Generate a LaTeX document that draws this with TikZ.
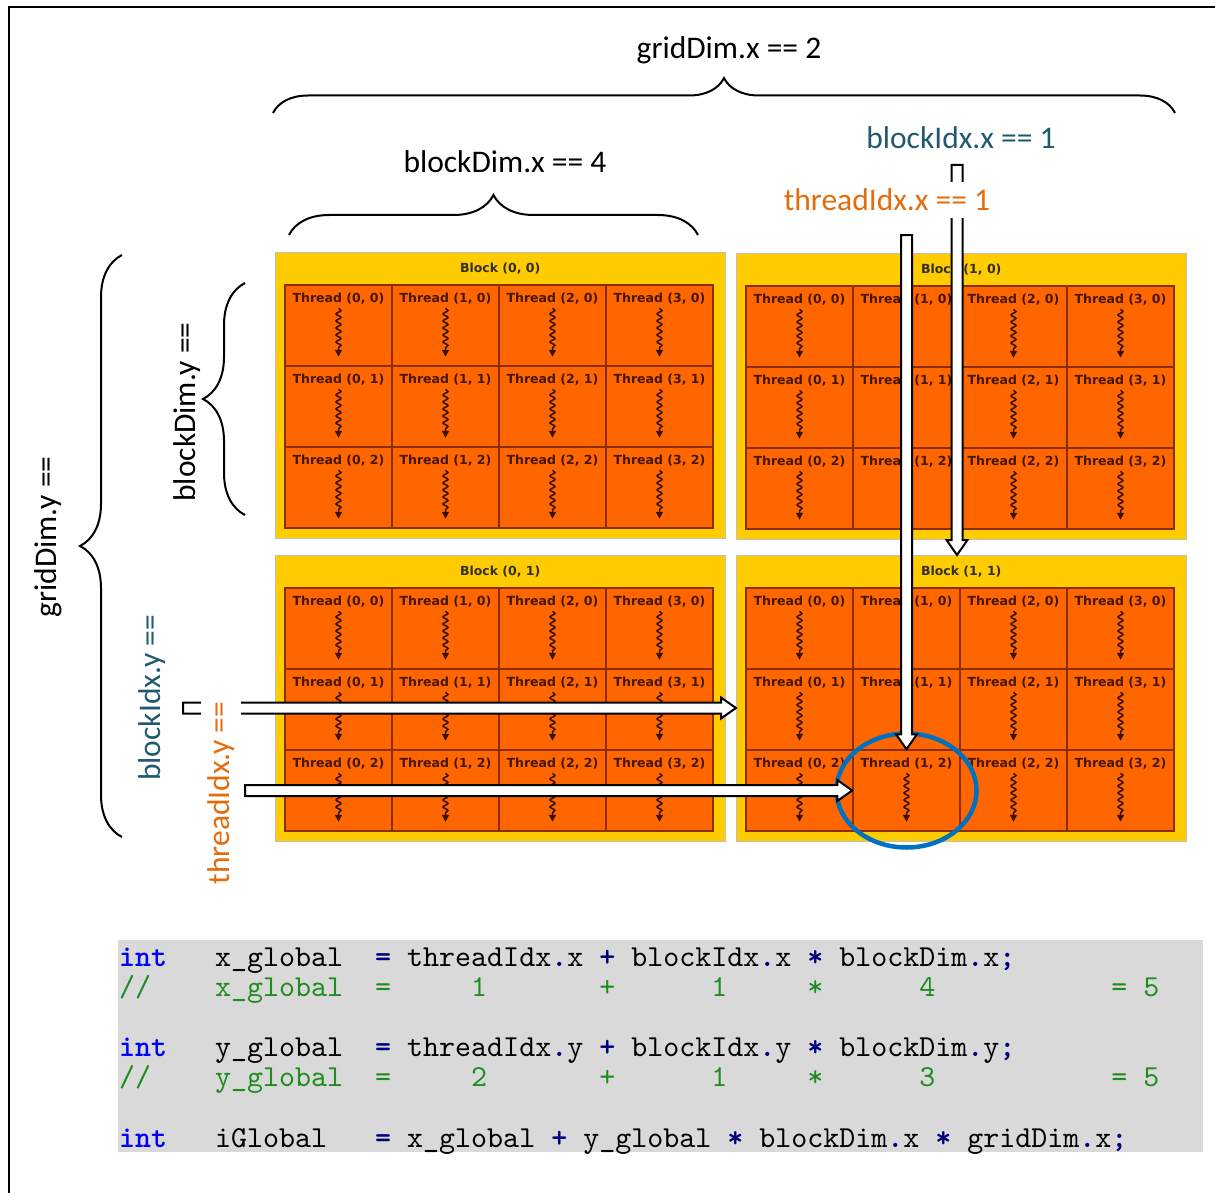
\documentclass[tikz,border=0pt]{standalone}
\usepackage{fontspec}
\setmainfont{Carlito}
\setmonofont{lmmono10-regular.otf}[BoldFont=lmmonolt10-bold.otf]
\newfontfamily\cellfont{DejaVu Sans}
\usetikzlibrary{arrows.meta,calc,decorations.pathmorphing,decorations.pathreplacing,shapes.geometric}
\definecolor{GridYellow}{HTML}{FFCC00}
\definecolor{CellOrange}{HTML}{FF6600}
\definecolor{CellBrown}{HTML}{8A2E00}
\definecolor{IdxTeal}{HTML}{215A6E}
\definecolor{IdxOrange}{HTML}{E46C0A}
\definecolor{PickBlue}{HTML}{0070C0}
\definecolor{CodeGrey}{HTML}{D9D9D9}
\definecolor{KwBlue}{HTML}{0000FF}
\definecolor{OpNavy}{HTML}{000080}
\definecolor{CmtGreen}{HTML}{1E8C1E}
\tikzset{lbl/.style={font=\fontsize{31.5}{36}\selectfont,inner sep=7pt},
blockbox/.style={draw=black!25,fill=GridYellow,minimum width=450pt,minimum height=286pt,anchor=north west,inner sep=0},
blocktxt/.style={font=\cellfont\bfseries\fontsize{12.5}{14}\selectfont,text=black!85!olive},
thread/.style={draw=CellBrown,line width=1.5pt,fill=CellOrange,minimum width=107pt,minimum height=81pt,inner sep=0},
threadtxt/.style={font=\cellfont\bfseries\fontsize{12.5}{14}\selectfont,text=CellBrown!50!black},
squig/.style={draw=CellBrown!40!black,line width=1.5pt,decorate,decoration={snake,amplitude=2.5pt,segment length=7pt,post length=6pt},-{Triangle[length=7pt,width=7pt]}},
brc/.style={decorate,decoration={brace,amplitude=#1},line width=2pt},
fatarr/.style={draw=black,fill=white,line width=2pt,line join=miter},
codeline/.style={anchor=base west,inner sep=0,font=\ttfamily\fontsize{30.48}{34}\selectfont}}
\newcommand\codekw[1]{\textcolor{KwBlue}{\bfseries #1}}
\newcommand\codeop[1]{\textcolor{OpNavy}{\bfseries #1}}
\newcommand\fatarrow[2]{%
\coordinate (fa-base) at ($(#2)!15pt!(#1)$);
\draw[fatarr] ($(#1)!5.5pt!90:(#2)$) -- ($(fa-base)!5.5pt!90:(#2)$) -- ($(fa-base)!10.5pt!90:(#2)$) -- (#2)
  -- ($(fa-base)!10.5pt!-90:(#2)$) -- ($(fa-base)!5.5pt!-90:(#2)$) -- ($(#1)!5.5pt!-90:(#2)$) -- cycle;}
\begin{document}
\begin{tikzpicture}[x=1pt,y=-1pt]
\useasboundingbox (0,0) rectangle (1215,1193);
% frame
\draw[line width=2.5pt] (8,7) -- (1215,7) (9,7) -- (9,1193);

% blocks of threads
\foreach \bx/\by/\ox/\oy in {0/0/275/252,1/0/736/253,0/1/275/555,1/1/736/555}{
\node[blockbox] (b\bx\by) at (\ox,\oy) {};
\node[blocktxt] at ([yshift=-17pt]b\bx\by.north) {Block (\bx, \by)};
\foreach \tx in {0,...,3}
\foreach \ty in {0,1,2}{
\node[thread] (b\bx\by-t\tx\ty) at (\ox+63.5+107*\tx,\oy+73.5+81*\ty) {};
\node[threadtxt] at ([yshift=-14pt]b\bx\by-t\tx\ty.north) {Thread (\tx, \ty)};
\draw[squig] ([yshift=-24pt]b\bx\by-t\tx\ty.north) -- ([yshift=10pt]b\bx\by-t\tx\ty.south);}}

\node[ellipse,draw=PickBlue,line width=4.5pt,minimum width=140pt,minimum height=114pt] (pick) at (b11-t12) {};

% index arrows
\coordinate (bx-tail) at (957,165);
\coordinate (bx-tip) at (bx-tail |- b11.north);
\coordinate (tx-tail) at (b11-t12.north |- 0,235);
\coordinate (by-tail) at (183,708);
\coordinate (by-tip) at (by-tail -| b11.west);
\coordinate (ty-tail) at (b11-t12.west -| 245,0);
\fatarrow{bx-tail}{bx-tip}
\fatarrow{tx-tail}{b11-t12.north}
\fatarrow{by-tail}{by-tip}
\fatarrow{ty-tail}{b11-t12.west}

% braces
\draw[brc=35pt] (273,113) -- (1175,113);
\draw[brc=40pt] (289,235) -- (698,235);
\draw[brc=42pt] (122,837) -- (122,255);
\draw[brc=42pt] (245,515) -- (245,283);

\node[lbl] (gdx) at (729,50) {gridDim.x == 2};
\node[lbl] (bdx) at (505,162) {blockDim.x == 4};
\node[lbl,text=IdxTeal] (bix) at (961,138) {blockIdx.x == 1};
\node[lbl,text=IdxOrange,fill=white] (tix) at (887,200) {threadIdx.x == 1};
\node[lbl,rotate=90] (bdy) at (187,412) {blockDim.y ==};
\node[lbl,rotate=90] (gdy) at (48,537) {gridDim.y ==};
\node[lbl,rotate=90,text=IdxTeal] (biy) at (152,698) {blockIdx.y ==};
\node[lbl,rotate=90,text=IdxOrange,fill=white] (tiy) at (221,793) {threadIdx.y ==};

% code
\fill[CodeGrey] (118,940) rectangle (1203,1152);
\node[codeline] (c1) at (119,966) {\codekw{int}~~~x\_global~~\codeop{=}~threadIdx\codeop{.}x~\codeop{+}~blockIdx\codeop{.}x~\codeop{*}~blockDim\codeop{.}x\codeop{;}};
\node[codeline,text=CmtGreen] (c2) at (119,996.2) {//~~~~x\_global~~=~~~~~1~~~~~~~+~~~~~~1~~~~~*~~~~~~4~~~~~~~~~~~=~5};
\node[codeline] (c3) at (119,1056.6) {\codekw{int}~~~y\_global~~\codeop{=}~threadIdx\codeop{.}y~\codeop{+}~blockIdx\codeop{.}y~\codeop{*}~blockDim\codeop{.}y\codeop{;}};
\node[codeline,text=CmtGreen] (c4) at (119,1086.8) {//~~~~y\_global~~=~~~~~2~~~~~~~+~~~~~~1~~~~~*~~~~~~3~~~~~~~~~~~=~5};
\node[codeline] (c5) at (119,1147.2) {\codekw{int}~~~iGlobal~~~\codeop{=}~x\_global~\codeop{+}~y\_global~\codeop{*}~blockDim\codeop{.}x~\codeop{*}~gridDim\codeop{.}x\codeop{;}};
\end{tikzpicture}
\end{document}
